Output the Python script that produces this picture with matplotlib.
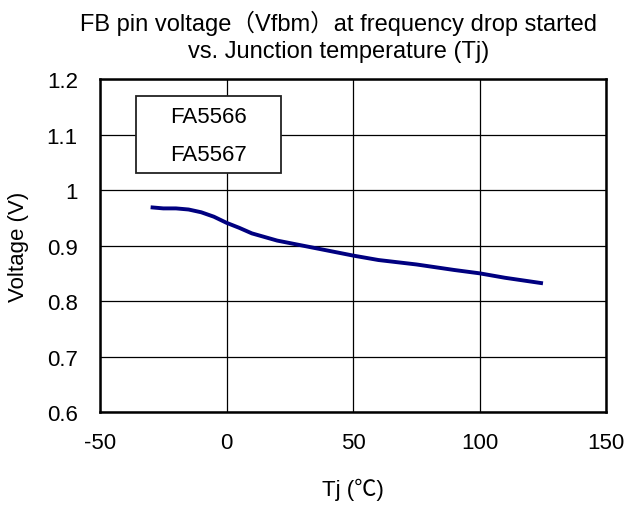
import matplotlib
matplotlib.use("Agg")
import matplotlib.pyplot as plt
from matplotlib.patches import Rectangle

plt.rcParams['font.family'] = ['Liberation Sans', 'Noto Sans CJK JP', 'DejaVu Sans']
plt.rcParams['axes.unicode_minus'] = False

# Vfbm vs Tj
tj = [-30, -25, -20, -15, -10, -5, 0, 5, 10, 20, 30, 40, 50, 60, 75, 90, 100, 110, 125]
vfbm = [0.969, 0.967, 0.967, 0.965, 0.960, 0.952, 0.941, 0.932, 0.922, 0.909, 0.900, 0.891, 0.882, 0.874, 0.866, 0.856, 0.850, 0.842, 0.832]

x_ticks = [-50, 0, 50, 100, 150]
y_ticks = [0.6, 0.7, 0.8, 0.9, 1.0, 1.1, 1.2]
y_labels = ["0.6", "0.7", "0.8", "0.9", "1", "1.1", "1.2"]
legend_lines = ["FA5566", "FA5567"]

fs = 16

fig = plt.figure(figsize=(6.25, 5.1), dpi=100)
ax = fig.add_axes([0.16, 0.19, 0.81, 0.653])

ax.plot(tj, vfbm, color="#000080", lw=2.8, solid_capstyle="butt", zorder=3)

ax.set_xlim(-50, 150)
ax.set_ylim(0.6, 1.2)
ax.set_xticks(x_ticks)
ax.set_yticks(y_ticks)
ax.set_yticklabels(y_labels)
ax.tick_params(axis="x", length=0, labelsize=fs, pad=14)
ax.tick_params(axis="y", length=0, labelsize=fs, pad=16)
ax.grid(True, color="black", lw=0.9)
for s in ax.spines.values():
    s.set_linewidth(1.8)

# model name box
ax.add_patch(Rectangle((-35.6, 1.031), 57.2, 0.138, facecolor="white",
                       edgecolor="#222222", lw=1.3, zorder=4))
ax.text(-7, 1.132, legend_lines[0], ha="center", va="center", fontsize=fs, zorder=5)
ax.text(-7, 1.064, legend_lines[1], ha="center", va="center", fontsize=fs, zorder=5)

ax.set_xlabel("Tj (℃)", fontsize=fs, labelpad=18)
ax.set_ylabel("Voltage (V)", fontsize=fs, labelpad=13)
fig.text(0.541, 0.927, "FB pin voltage（Vfbm）at frequency drop started\nvs. Junction temperature (Tj)",
         ha="center", va="center", fontsize=17, linespacing=1.3)

fig.savefig("out.png", dpi=100)
